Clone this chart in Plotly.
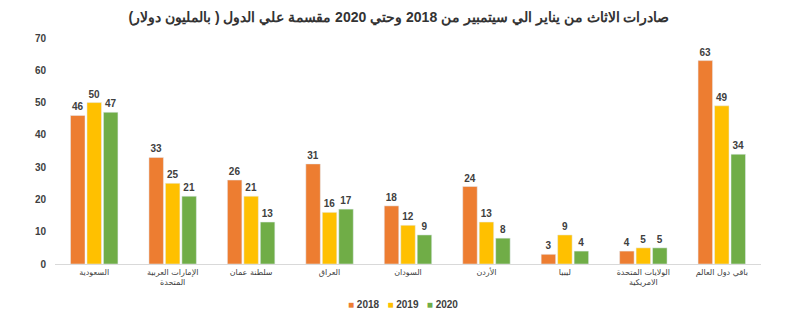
import plotly.graph_objects as go

categories = ["السعودية", "الإمارات العربية<br>المتحدة", "سلطنة عمان", "العراق", "السودان",
              "الأردن", "ليبيا", "الولايات المتحدة<br>الامريكية", "باقي دول العالم"]
v2018 = [46, 33, 26, 31, 18, 24, 3, 4, 63]
v2019 = [50, 25, 21, 16, 12, 13, 9, 5, 49]
v2020 = [47, 21, 13, 17, 9, 8, 4, 5, 34]
years = ["2018", "2019", "2020"]
colors = ["#ED7D31", "#FFC000", "#70AD47"]
title = "صادرات الاثاث من يناير الي سيتمبير من 2018 وحتي 2020 مقسمة علي الدول ( بالمليون دولار)"

fig = go.Figure()
for name, vals, c in zip(years, [v2018, v2019, v2020], colors):
    fig.add_trace(go.Bar(
        x=categories, y=vals, name=name, marker_color=c,
        text=[str(v) for v in vals], textposition="outside",
        textfont=dict(size=10, color="#404040", family="Liberation Sans", weight="bold"),
        cliponaxis=False, showlegend=False,
    ))

legend_text = "&nbsp;&nbsp;&nbsp;".join(
    f"<span style='color:{c};font-size:10px'>■</span> {y}" for y, c in zip(years, colors))
fig.add_annotation(text=legend_text, xref="paper", yref="paper", x=0.493, y=-0.181,
                   xanchor="center", yanchor="middle", showarrow=False,
                   font=dict(size=10, color="#404040", family="Liberation Sans", weight="bold"))

fig.update_layout(
    width=790, height=331,
    margin=dict(l=55, r=29, t=38, b=67, autoexpand=False),
    paper_bgcolor="white", plot_bgcolor="white",
    barmode="group", bargap=0.37, bargroupgap=0.12,
    title=dict(text=title, x=0.505, xanchor="center", y=0.948, yanchor="middle",
               font=dict(size=14, color="#333333", family="Liberation Sans", weight="bold")),
    yaxis=dict(range=[0, 70], dtick=10, showgrid=False, zeroline=False,
               tickfont=dict(size=10, color="#404040", family="Liberation Sans", weight="bold"),
               ticks="", ticklabelstandoff=8),
    xaxis=dict(showline=True, linecolor="#d9d9d9", linewidth=1, ticks="",
               tickfont=dict(size=8, color="#404040", family="DejaVu Sans"), tickangle=0),
)

fig.write_html("out.html")
